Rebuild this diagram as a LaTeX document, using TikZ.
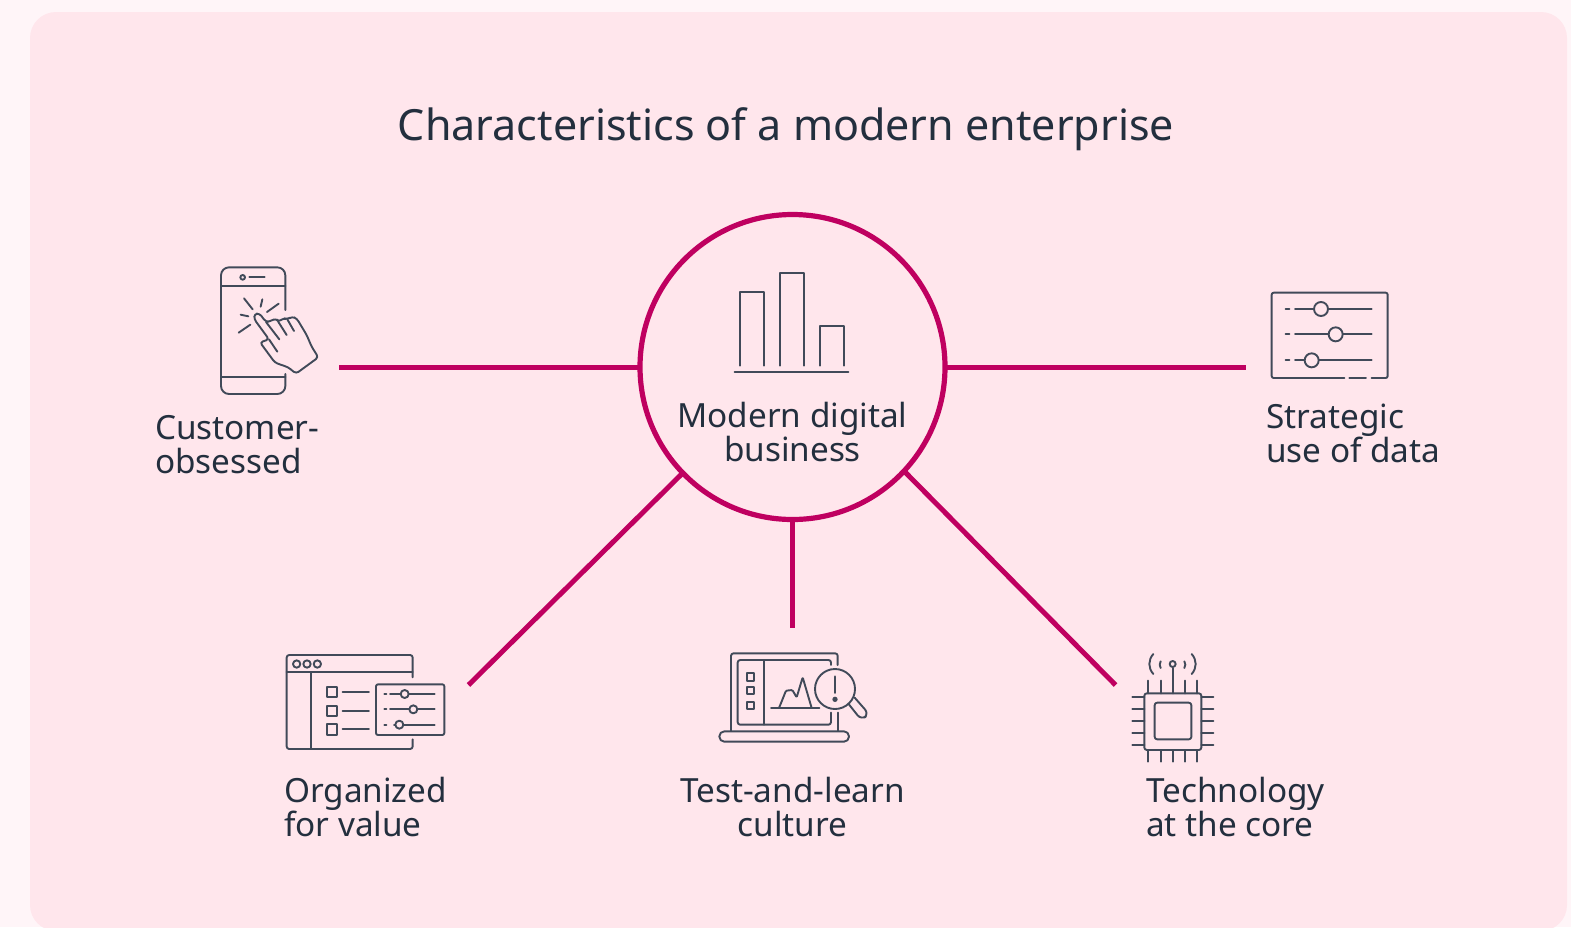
\documentclass[tikz,border=0pt]{standalone}
\usepackage{fontspec}
\setmainfont{Noto Sans}
\definecolor{pagebg}{HTML}{FFF5F8}
\definecolor{panelbg}{HTML}{FFE6EC}
\definecolor{ink}{HTML}{232F3E}
\definecolor{iconink}{HTML}{414A59}
\definecolor{berry}{HTML}{BF0060}
\tikzset{
  spoke/.style={draw=berry,line width=5pt},
  hubring/.style={circle,draw=berry,line width=5.2pt,minimum size=305pt,inner sep=0pt,outer sep=0pt},
  lbl/.style={font=\fontsize{33.3}{34}\selectfont,text=ink,inner sep=0pt,anchor=base west,align=left},
  lblc/.style={font=\fontsize{33.3}{34}\selectfont,text=ink,inner sep=0pt,anchor=base,align=center},
  ic/.style={draw=iconink,line width=1.9pt,line cap=round,line join=round},
  zoomed/.style={x=0.33333pt,y=-0.33333pt}
}
\begin{document}
\begin{tikzpicture}[x=1pt,y=-1pt]
\useasboundingbox (0,0) rectangle (1571,927);
\fill[pagebg] (0,0) rectangle (1571,927);
\begin{scope}
\clip (0,0) rectangle (1571,927);
\fill[panelbg,rounded corners=26pt] (30,12) rectangle (1567,931);
\end{scope}
\node[font=\fontsize{43}{48}\selectfont,text=ink,inner sep=0pt,anchor=base] (title) at (786,140) {Characteristics of a modern enterprise};

\node[hubring] (hub) at (792.5,367) {};
\coordinate (endA) at (339,367);
\coordinate (endB) at (1246,367);
\coordinate (endC) at (468.5,685);
\coordinate (endD) at (792.5,628);
\coordinate (endE) at (1115.5,685);
\draw[spoke] (hub.west) -- (endA);
\draw[spoke] (hub.east) -- (endB);
\draw[spoke] (hub.-136.2) -- (endC);
\draw[spoke] (hub.south) -- (endD);
\draw[spoke] (hub.-43.7) -- (endE);

\node[lblc] (hubtext) at (792.5,461) {Modern digital\\business};
\node[lbl] (t1) at (155,473) {Customer-\\obsessed};
\node[lbl] (t2) at (1266,462) {Strategic\\use of data};
\node[lbl] (t3) at (284,836) {Organized\\for value};
\node[lblc] (t4) at (792.5,836) {Test-and-learn\\culture};
\node[lbl] (t5) at (1146,836) {Technology\\at the core};

% bars
\begin{scope}[shift={(720,260)},zoomed]
\draw[ic] (60,317)--(60,95)--(132,95)--(132,317);
\draw[ic] (180,317)--(180,38)--(252,38)--(252,317);
\draw[ic] (300,317)--(300,198)--(372,198)--(372,317);
\draw[ic] (44,335)--(385,335);
\end{scope}

% phone
\begin{scope}[shift={(140,250)},zoomed]
\draw[ic,rounded corners=8pt] (436,180)--(436,52)--(243,52)--(243,432)--(436,432)--(436,372);
\draw[ic] (243,108)--(436,108) (243,382)--(436,382);
\draw[ic] (308,82) circle (7);
\draw[ic] (328,82)--(374,82);
\draw[ic] (312,145)--(338,178) (367,148)--(362,170) (416,161)--(381,186) (302,194)--(325,199) (296,248)--(331,224);
\draw[ic,rounded corners=3pt] (387,268)--(343,208)--(343,192)--(358,190)--(378,216)--(390,214)--(408,205)--(416,216)--(430,204)--(442,208)--(456,200)--(470,205)--(500,255)--(515,290)--(535,322)--(468,371)--(445,352)--(405,338)--(360,277)--cycle;
\draw[ic] (378,216)--(418,268) (414,214)--(440,255) (442,208)--(462,243) (387,268)--(412,305);
\end{scope}

% sliders
\begin{scope}[shift={(1250,280)},zoomed]
\draw[ic,rounded corners=2pt] (283,294)--(65,294)--(65,38)--(413,38)--(413,294)--(365,294);
\draw[ic] (298,294)--(348,294);
\draw[ic] (107,87)--(118,87) (135,87)--(365,87);
\draw[ic] (107,163)--(118,163) (135,163)--(365,163);
\draw[ic] (107,241)--(118,241) (135,241)--(365,241);
\filldraw[ic,fill=panelbg] (213,87) circle (21) (257,163) circle (21) (185,241) circle (21);
\end{scope}

% window
\begin{scope}[shift={(270,640)},zoomed]
\draw[ic,rounded corners=2.5pt] (428,112)--(428,45)--(50,45)--(50,327)--(428,327)--(428,298);
\draw[ic] (50,97)--(428,97) (122,97)--(122,327);
\draw[ic] (80,72) circle (11) (111,72) circle (11) (142,72) circle (11);
\draw[ic] (170,140) rectangle (200,170) (170,197) rectangle (200,227) (170,253) rectangle (200,284);
\draw[ic] (218,155)--(297,155) (218,213)--(297,213) (218,268)--(297,268);
\draw[ic,rounded corners=2pt] (318,133) rectangle (523,285);
\draw[ic] (343,162)--(349,162) (360,162)--(494,162) (343,208)--(349,208) (360,208)--(494,208) (343,254)--(349,254) (372,254)--(494,254);
\filldraw[ic,fill=panelbg] (404,162) circle (12) (430,208) circle (12) (388,254) circle (12);
\end{scope}

% laptop
\begin{scope}[shift={(700,640)},zoomed]
\draw[ic,rounded corners=2.5pt] (93,272)--(93,40)--(413,40)--(413,75);
\draw[ic] (413,218)--(413,272);
\draw[ic,rounded corners=5pt] (58,274)--(447,274)--(447,305)--(58,305)--cycle;
\draw[ic,rounded corners=2.5pt] (393,75)--(393,60)--(113,60)--(113,254)--(393,254)--(393,218);
\draw[ic] (191,60)--(191,254);
\draw[ic] (141,100) rectangle (163,122) (141,142) rectangle (163,163) (141,185) rectangle (163,206);
\draw[ic] (213,204)--(358,204);
\draw[ic,rounded corners=1pt] (237,204)--(258,152)--(277,150)--(290,172)--(308,112)--(335,204);
\filldraw[ic,fill=panelbg] (405,147) circle (60);
\draw[ic,line width=2.8pt] (405,110)--(405,158);
\fill[iconink] (405,178) circle (8);
\draw[ic,rounded corners=6pt] (445,191)--(484,240)--(507,222)--(464,173);
\end{scope}

% chip
\begin{scope}[shift={(1110,640)},zoomed]
\draw[ic,rounded corners=2.5pt] (103,160) rectangle (274,330);
\draw[ic,rounded corners=2.5pt] (134,188) rectangle (244,298);
\draw[ic] (115,122)--(115,160) (152,122)--(152,160) (225,122)--(225,160) (262,122)--(262,160) (188,84)--(188,160);
\draw[ic] (188,72) circle (9);
\draw[ic] (115,330)--(115,365) (152,330)--(152,365) (188,330)--(188,365) (225,330)--(225,365) (262,330)--(262,365);
\foreach \yy in {171,207,243,280,316} {\draw[ic] (67,\yy)--(103,\yy) (274,\yy)--(310,\yy);}
\draw[ic] (130,42) .. controls (114,60) and (114,84) .. (130,102);
\draw[ic] (245,42) .. controls (261,60) and (261,84) .. (245,102);
\draw[ic] (152,64) .. controls (148,70) and (148,78) .. (152,84);
\draw[ic] (223,64) .. controls (227,70) and (227,78) .. (223,84);
\end{scope}
\end{tikzpicture}
\end{document}
